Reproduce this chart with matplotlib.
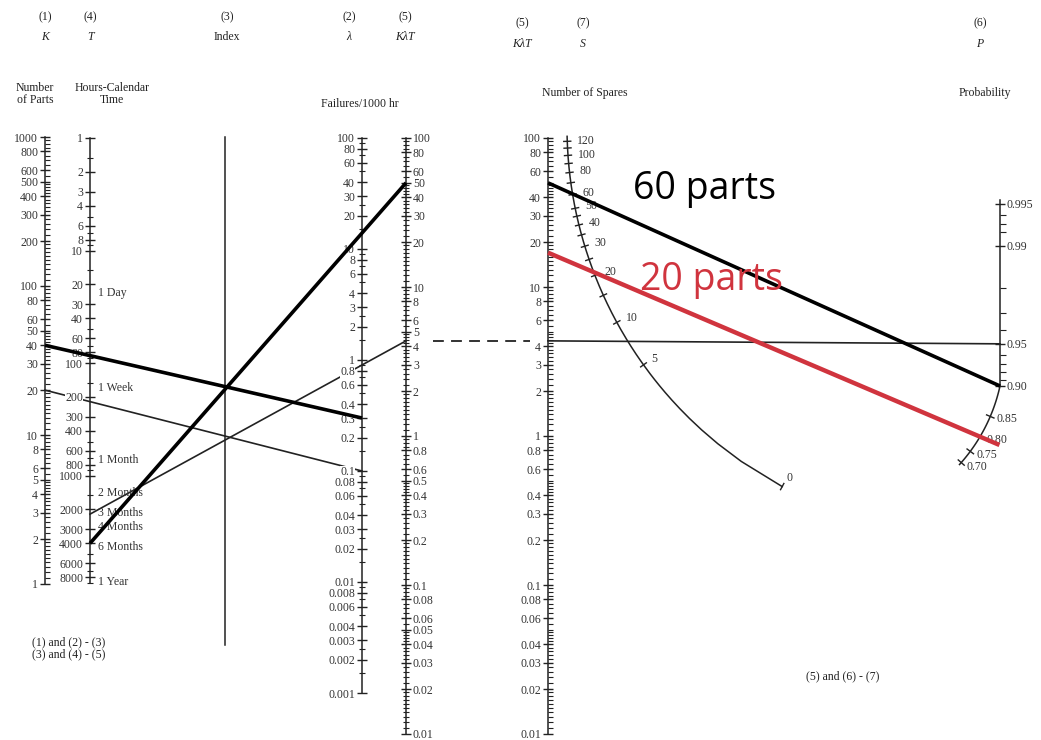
import numpy as np
import matplotlib
matplotlib.use("Agg")
import matplotlib.pyplot as plt
from matplotlib.ticker import FixedLocator, FixedFormatter, NullFormatter

plt.rcParams["font.family"] = ["Liberation Serif", "DejaVu Serif"]

W, H = 1041, 740
INK = "#222222"
RED = "#d0343e"

# ---- scale values / labels ----
k_ticks = [1000, 800, 600, 500, 400, 300, 200, 100, 80, 60, 50, 40, 30, 20, 10, 8, 6, 5, 4, 3, 2, 1]
t_ticks = [1, 2, 3, 4, 6, 8, 10, 20, 30, 40, 60, 80, 100, 200, 300, 400, 600, 800,
           1000, 2000, 3000, 4000, 6000, 8000]
t_marks = ["1 Day", "1 Week", "1 Month", "2 Months", "3 Months", "4 Months", "6 Months", "1 Year"]
t_mark_hours = [24, 168, 720, 1440, 2160, 2880, 4320, 8760]
lam_ticks = [100, 80, 60, 40, 30, 20, 10, 8, 6, 4, 3, 2, 1, 0.8, 0.6, 0.4, 0.3, 0.2, 0.1,
             0.08, 0.06, 0.04, 0.03, 0.02, 0.01, 0.008, 0.006, 0.004, 0.003, 0.002, 0.001]
klt_ticks = [100, 80, 60, 50, 40, 30, 20, 10, 8, 6, 5, 4, 3, 2, 1, 0.8, 0.6, 0.5, 0.4, 0.3,
             0.2, 0.1, 0.08, 0.06, 0.05, 0.04, 0.03, 0.02, 0.01]
klt2_ticks = [100, 80, 60, 40, 30, 20, 10, 8, 6, 4, 3, 2, 1, 0.8, 0.6, 0.4, 0.3, 0.2, 0.1,
              0.08, 0.06, 0.04, 0.03, 0.02, 0.01]
s_ticks = [120, 100, 80, 60, 50, 40, 30, 20, 10, 5, 0]
s_minor = [110, 90, 70, 45, 35, 25, 15]
p_ticks = [0.995, 0.99, 0.95, 0.90]
p_labels = ["0.995", "0.99", "0.95", "0.90"]
p_minor = [0.994, 0.993, 0.992, 0.98, 0.97, 0.96, 0.94, 0.93, 0.92, 0.91]
p_curve_ticks = [0.85, 0.80, 0.75, 0.70]
p_curve_labels = ["0.85", "0.80", "0.75", "0.70"]

# worked examples
thick_k, thick_lam = 40, 0.3        # (1),(2) -> index
thick_t, thick_klt = 4000, 50       # index,(4) -> (5)
thin_k, thin_lam = 20, 0.1
thin_t, thin_klt = 2200, 4.35
parts_labels = ["60 parts", "20 parts"]
parts_klt = [50, 17]
parts_p = [0.90, 0.80]
ref_p = 0.95


def dense_minors(lo, hi):
    out = []
    for e in range(lo, hi):
        d = 10.0 ** e
        out += list(d * np.arange(1, 2, 0.1)) + list(d * np.arange(2, 5, 0.2)) + list(d * np.arange(5, 10, 0.5))
    return out


def light_minors(lo, hi, mults=(1.5, 2.5, 5, 7, 9)):
    return [10.0 ** e * m for e in range(lo, hi) for m in mults]


fig = plt.figure(figsize=(W / 100, H / 100), dpi=100)
under = fig.add_axes([0, 0, 1, 1])
over = fig.add_axes([0, 0, 1, 1], zorder=10)
for a in (under, over):
    a.set_xlim(0, W)
    a.set_ylim(H, 0)
    a.axis("off")
over.patch.set_visible(False)


def scale_axis(x, y_top, y_bot, side="left"):
    w = 2
    left = x if side == "left" else x - w
    ax = fig.add_axes([left / W, 1 - y_bot / H, w / W, (y_bot - y_top) / H], zorder=5)
    ax.patch.set_visible(False)
    for s in ax.spines.values():
        s.set_visible(False)
    ax.spines[side].set_visible(True)
    ax.spines[side].set_linewidth(1.1)
    ax.spines[side].set_color(INK)
    ax.set_xlim(0, 1)
    ax.set_xticks([])
    ax.yaxis.set_ticks_position(side)
    ax.spine_x = 0 if side == "left" else 1
    return ax


def style_ticks(ax, majors, labels, minors, mdir="inout", ndir="inout", nlen=4, boxed=False):
    ax.yaxis.set_major_locator(FixedLocator(majors))
    ax.yaxis.set_major_formatter(FixedFormatter(labels))
    ax.yaxis.set_minor_locator(FixedLocator(minors))
    ax.yaxis.set_minor_formatter(NullFormatter())
    ax.tick_params(axis="y", which="major", direction=mdir, length=7, width=1.0,
                   pad=1.5, labelsize=8.5, labelcolor="#333333", color=INK)
    ax.tick_params(axis="y", which="minor", direction=ndir, length=nlen, width=0.8, color=INK)
    if boxed:
        for lab in ax.get_yticklabels():
            lab.set_bbox(dict(facecolor="white", edgecolor="none", pad=0.2))


def lbl(v):
    return f"{v:g}"


def pt(ax, v):
    disp = ax.transData.transform((ax.spine_x, v))
    return under.transData.inverted().transform(disp)


# (1) K
ax_k = scale_axis(45, 137, 584)
ax_k.set_yscale("log")
ax_k.set_ylim(1, 1000)
style_ticks(ax_k, k_ticks, [lbl(v) for v in k_ticks], dense_minors(0, 3), ndir="in", nlen=3.5)

# (4) T
ax_t = scale_axis(90, 138, 583)
ax_t.set_yscale("log")
ax_t.set_ylim(9000, 1)
style_ticks(ax_t, t_ticks, [lbl(v) for v in t_ticks], light_minors(0, 4, (1.5, 5, 7, 9)), boxed=True)

# (3) index
ax_i = scale_axis(225, 137, 645)
ax_i.set_yticks([])

# (2) lambda
ax_lam = scale_axis(362, 138, 693)
ax_lam.set_yscale("log")
ax_lam.set_ylim(0.001, 100)
style_ticks(ax_lam, lam_ticks, [lbl(v) for v in lam_ticks], light_minors(-3, 2), boxed=True)

# (5) K lambda T, left chart
ax_klt = scale_axis(406, 138, 734, side="right")
ax_klt.set_yscale("log")
ax_klt.set_ylim(0.01, 100)
style_ticks(ax_klt, klt_ticks, [lbl(v) for v in klt_ticks], dense_minors(-2, 2), nlen=4)

# (5) K lambda T, right chart
ax_klt2 = scale_axis(548, 138, 734)
ax_klt2.set_yscale("log")
ax_klt2.set_ylim(0.01, 100)
style_ticks(ax_klt2, klt2_ticks, [lbl(v) for v in klt2_ticks], dense_minors(-2, 2), ndir="in", nlen=3.5)

# (6) P, straight part
ax_p = scale_axis(1000, 200, 386, side="right")
ax_p.set_yscale("function", functions=(lambda p: -np.log(np.clip(1 - p, 1e-9, None)),
                                       lambda z: 1 - np.exp(-z)))
ax_p.set_ylim(0.90, 0.9953)
style_ticks(ax_p, p_ticks, p_labels, p_minor, ndir="out", nlen=4)

# (6) P, curved continuation below 0.90
p_r = 172
p_a0 = np.radians(12.4)
p_start = pt(ax_p, 0.90)
p_c = p_start - p_r * np.array([np.cos(p_a0), np.sin(p_a0)])


def p_ang(p):
    return p_a0 + np.radians(26.3) * (-np.log(1 - 0.90) + np.log(1 - np.asarray(p)))


def p_xy(p):
    a = p_ang(p)
    return np.array([p_c[0] + p_r * np.cos(a), p_c[1] + p_r * np.sin(a)])


aa = np.linspace(p_a0, p_ang(0.69), 80)
under.plot(p_c[0] + p_r * np.cos(aa), p_c[1] + p_r * np.sin(aa), color=INK, lw=1.1)
for p, s in zip(p_curve_ticks, p_curve_labels):
    a = p_ang(p)
    u = np.array([np.cos(a), np.sin(a)])
    x, y = p_xy(p)
    under.plot([x - 4 * u[0], x + 4 * u[0]], [y - 4 * u[1], y + 4 * u[1]], color=INK, lw=1)
    under.text(x + 6 * u[0] + 1, y + 6 * u[1], s, ha="left", va="center", fontsize=8.5, color="#333333")

# (7) S curve
s_c = np.array([975.0, 127.0])
s_r = 408


def s_ang(s):
    return np.radians(118.2 + 25.1 * np.log10(2 * np.asarray(s, dtype=float) + 1))


ss = np.linspace(0, 128, 300)
under.plot(s_c[0] + s_r * np.cos(s_ang(ss)), s_c[1] + s_r * np.sin(s_ang(ss)), color=INK, lw=1.1)
for s in s_ticks + s_minor:
    a = s_ang(s)
    u = np.array([np.cos(a), np.sin(a)])
    x, y = s_c + s_r * u
    under.plot([x - 3.5 * u[0], x + 3.5 * u[0]], [y - 3.5 * u[1], y + 3.5 * u[1]], color=INK, lw=1)
    if s in s_ticks:
        under.text(x - 10 * u[0], y - 10 * u[1], lbl(s), ha="left", va="center",
                   fontsize=8.5, color="#333333")

# calendar marks beside T
for s, hrs in zip(t_marks, t_mark_hours):
    x, y = pt(ax_t, hrs)
    under.text(x + 8, y, s, ha="left", va="center", fontsize=8.5, color="#333333")

# worked example lines, left chart
a, b = pt(ax_k, thin_k), pt(ax_lam, thin_lam)
under.plot([a[0], b[0]], [a[1], b[1]], color=INK, lw=1.2)
a, b = pt(ax_t, thin_t), pt(ax_klt, thin_klt)
under.plot([a[0], b[0]], [a[1], b[1]], color=INK, lw=1.2)
a, b = pt(ax_k, thick_k), pt(ax_lam, thick_lam)
over.plot([a[0], b[0]], [a[1], b[1]], color="black", lw=2.6, solid_capstyle="butt")
a, b = pt(ax_t, thick_t), pt(ax_klt, thick_klt)
over.plot([a[0], b[0]], [a[1], b[1]], color="black", lw=2.6, solid_capstyle="butt")

# transfer of K lambda T to the right chart
a, b = pt(ax_klt, thin_klt), pt(ax_klt2, thin_klt)
under.plot([a[0] + 27, b[0] - 18], [a[1], b[1]], color=INK, lw=1.3, dashes=(6, 4))
c = pt(ax_p, ref_p)
under.plot([b[0], c[0]], [b[1], c[1]], color=INK, lw=1.2)

# right chart: parts lines
a, b = pt(ax_klt2, parts_klt[0]), pt(ax_p, parts_p[0])
over.plot([a[0], b[0]], [a[1], b[1]], color="black", lw=2.6, solid_capstyle="butt")
a, b = pt(ax_klt2, parts_klt[1]), p_xy(parts_p[1])
b = a + 1.045 * (b - a)
over.plot([a[0], b[0]], [a[1], b[1]], color=RED, lw=3.2, solid_capstyle="butt")
over.text(633, 199, parts_labels[0], fontsize=27, family="Open Sans", color="black", va="baseline")
over.text(640, 290, parts_labels[1], fontsize=27, family="Open Sans", color=RED, va="baseline")

# headers
fs = 8.5
heads = [(45, "(1)", "K"), (90, "(4)", "T"), (227, "(3)", "Index"), (349, "(2)", "λ"), (405, "(5)", "KλT")]
for x, n, s in heads:
    under.text(x, 17, n, ha="center", va="center", fontsize=fs, color=INK)
    under.text(x, 37, s, ha="center", va="center", fontsize=fs, color=INK,
               style="normal" if s == "Index" else "italic")
for x, n, s in [(522, "(5)", "KλT"), (583, "(7)", "S"), (980, "(6)", "P")]:
    under.text(x, 23, n, ha="center", va="center", fontsize=fs, color=INK)
    under.text(x, 44, s, ha="center", va="center", fontsize=fs, color=INK, style="italic")

under.text(35, 94, "Number\nof Parts", ha="center", va="center", fontsize=fs, color=INK, linespacing=1.1)
under.text(112, 94, "Hours-Calendar\nTime", ha="center", va="center", fontsize=fs, color=INK, linespacing=1.1)
under.text(360, 104, "Failures/1000 hr", ha="center", va="center", fontsize=fs, color=INK)
under.text(585, 93, "Number of Spares", ha="center", va="center", fontsize=fs, color=INK)
under.text(985, 93, "Probability", ha="center", va="center", fontsize=fs, color=INK)

under.text(32, 648, "(1) and (2) - (3)\n(3) and (4) - (5)", ha="left", va="center",
           fontsize=fs, color=INK, linespacing=1.0)
under.text(806, 676, "(5) and (6) - (7)", ha="left", va="center", fontsize=fs, color=INK)

fig.savefig("out.png", dpi=100)
